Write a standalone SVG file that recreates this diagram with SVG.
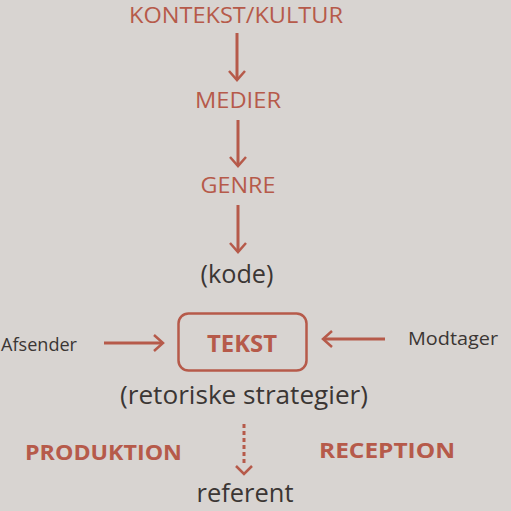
<svg xmlns="http://www.w3.org/2000/svg" width="511" height="511" viewBox="0 0 511 511">
<style>
.red{fill:#b65a4a;font-family:"Open Sans","Noto Sans",sans-serif;}
.dark{fill:#3b3634;font-family:"Open Sans","Noto Sans",sans-serif;}
.b{font-weight:bold;}
.ln{stroke:#b65a4a;stroke-width:3;fill:none;stroke-linecap:butt;}
.hd{stroke:#b65a4a;stroke-width:2.5;fill:none;stroke-linejoin:miter;}
</style>
<rect width="511" height="511" fill="#d8d4d1"/>
<g id="kontekst"><text class="red" x="236" y="23" font-size="21" text-anchor="middle" textLength="214" lengthAdjust="spacingAndGlyphs">KONTEKST/KULTUR</text></g>
<g id="medier"><text class="red" x="238" y="108" font-size="22" text-anchor="middle" textLength="86" lengthAdjust="spacingAndGlyphs">MEDIER</text></g>
<g id="genre"><text class="red" x="238" y="193" font-size="22" text-anchor="middle" textLength="75" lengthAdjust="spacingAndGlyphs">GENRE</text></g>
<g id="kode"><text class="dark" x="237" y="283" font-size="25" text-anchor="middle" textLength="73" lengthAdjust="spacingAndGlyphs">(kode)</text></g>
<g id="tekst">
<rect x="178.5" y="313.5" width="128" height="57" rx="10" fill="none" stroke="#b65a4a" stroke-width="2.5"/>
<text class="red b" x="242" y="352" font-size="24" text-anchor="middle" textLength="70" lengthAdjust="spacingAndGlyphs">TEKST</text>
</g>
<g id="afsender"><text class="dark" x="1" y="351" font-size="18" textLength="76" lengthAdjust="spacingAndGlyphs">Afsender</text></g>
<g id="modtager"><text class="dark" x="408" y="345" font-size="18" textLength="90" lengthAdjust="spacingAndGlyphs">Modtager</text></g>
<g id="retoriske"><text class="dark" x="244" y="404" font-size="25" text-anchor="middle" textLength="248" lengthAdjust="spacingAndGlyphs">(retoriske strategier)</text></g>
<g id="produktion"><text class="red b" x="25" y="460" font-size="22" textLength="157" lengthAdjust="spacingAndGlyphs">PRODUKTION</text></g>
<g id="reception"><text class="red b" x="319" y="458" font-size="22" textLength="136" lengthAdjust="spacingAndGlyphs">RECEPTION</text></g>
<g id="referent"><text class="dark" x="245" y="502" font-size="25" text-anchor="middle" textLength="97" lengthAdjust="spacingAndGlyphs">referent</text></g>
<g id="connectors">
<line class="ln" x1="237" y1="33" x2="237" y2="80"/>
<polyline class="hd" points="229,71 237,80 245,71"/>
<line class="ln" x1="238" y1="120" x2="238" y2="166"/>
<polyline class="hd" points="230,157 238,166 246,157"/>
<line class="ln" x1="238" y1="205" x2="238" y2="252"/>
<polyline class="hd" points="230,243 238,252 246,243"/>
<line class="ln" x1="104" y1="343" x2="162" y2="343"/>
<polyline class="hd" points="154,335 163,343 154,351"/>
<line class="ln" x1="385" y1="339" x2="324" y2="339"/>
<polyline class="hd" points="332,331 323,339 332,347"/>
<line x1="244" y1="424" x2="244" y2="464" stroke="#b65a4a" stroke-width="3" stroke-dasharray="4,3"/>
<polyline class="hd" points="236,466 244,474 252,466"/>
</g>
</svg>
